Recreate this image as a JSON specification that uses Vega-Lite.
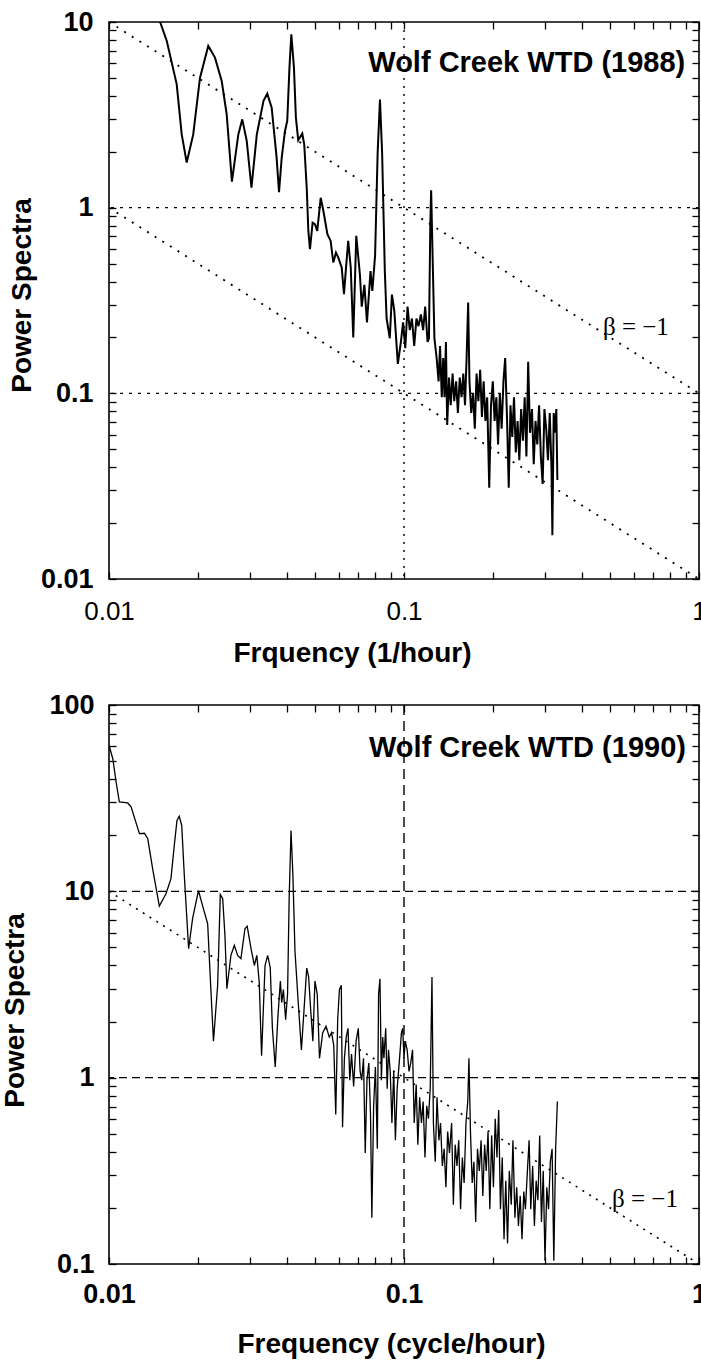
{
  "$schema": "https://vega.github.io/schema/vega-lite/v6.json",
  "background": "white",
  "padding": {"left": 0, "top": 7, "right": 0, "bottom": 0},
  "spacing": 22,
  "config": {
    "font": "Liberation Sans",
    "view": {"stroke": "black", "strokeWidth": 1.6},
    "axis": {
      "domain": false, "grid": false, "ticks": true, "tickColor": "black", "tickWidth": 1.3, "tickSize": 7, "offset": -7,
      "labelColor": "black", "titleColor": "black", "labelFont": "Liberation Sans", "titleFont": "Liberation Sans",
      "labelOverlap": false, "labelFlush": false, "labelBound": false
    }
  },
  "datasets": {
    "spec1988": [
      {"f": 0.0149, "p": 10}, {"f": 0.0157, "p": 7.9}, {"f": 0.01696, "p": 4.63}, {"f": 0.01764, "p": 2.48}, {"f": 0.01834, "p": 1.75},
      {"f": 0.0193, "p": 2.48}, {"f": 0.02034, "p": 5.0}, {"f": 0.0217, "p": 7.43}, {"f": 0.02287, "p": 6.43}, {"f": 0.0241, "p": 4.81},
      {"f": 0.02506, "p": 3.18}, {"f": 0.0261, "p": 1.38}, {"f": 0.02744, "p": 2.48}, {"f": 0.0283, "p": 2.99}, {"f": 0.0293, "p": 2.29},
      {"f": 0.0304, "p": 1.28}, {"f": 0.0317, "p": 2.48}, {"f": 0.0334, "p": 3.76}, {"f": 0.0344, "p": 4.11}, {"f": 0.0356, "p": 3.46},
      {"f": 0.037, "p": 1.86}, {"f": 0.0377, "p": 1.21}, {"f": 0.0385, "p": 1.86}, {"f": 0.0395, "p": 2.59}, {"f": 0.0402, "p": 2.93},
      {"f": 0.0409, "p": 5.68}, {"f": 0.0415, "p": 8.59}, {"f": 0.04236, "p": 5.68}, {"f": 0.043, "p": 3.06}, {"f": 0.0438, "p": 2.31},
      {"f": 0.0452, "p": 2.51}, {"f": 0.0459, "p": 2.19}, {"f": 0.0468, "p": 1.28}, {"f": 0.0474, "p": 0.749}, {"f": 0.048, "p": 0.597},
      {"f": 0.049, "p": 0.83}, {"f": 0.0499, "p": 0.814}, {"f": 0.0508, "p": 0.749}, {"f": 0.0522, "p": 1.13}, {"f": 0.0533, "p": 0.96},
      {"f": 0.055, "p": 0.72}, {"f": 0.0564, "p": 0.662}, {"f": 0.0576, "p": 0.506}, {"f": 0.0588, "p": 0.573}, {"f": 0.0599, "p": 0.538},
      {"f": 0.0615, "p": 0.475}, {"f": 0.0626, "p": 0.342}, {"f": 0.0636, "p": 0.475}, {"f": 0.0647, "p": 0.662}, {"f": 0.066, "p": 0.475},
      {"f": 0.0673, "p": 0.2}, {"f": 0.0689, "p": 0.706}, {"f": 0.0709, "p": 0.434}, {"f": 0.0719, "p": 0.293}, {"f": 0.0734, "p": 0.384},
      {"f": 0.0749, "p": 0.241}, {"f": 0.077, "p": 0.455}, {"f": 0.0781, "p": 0.356}, {"f": 0.0798, "p": 0.553}, {"f": 0.0814, "p": 1.97},
      {"f": 0.0829, "p": 3.82}, {"f": 0.0843, "p": 1.97}, {"f": 0.0861, "p": 0.455}, {"f": 0.0873, "p": 0.253}, {"f": 0.0895, "p": 0.198},
      {"f": 0.091, "p": 0.34}, {"f": 0.0927, "p": 0.279}, {"f": 0.0953, "p": 0.144}, {"f": 0.0976, "p": 0.189}, {"f": 0.0993, "p": 0.241},
      {"f": 0.101, "p": 0.175}, {"f": 0.1028, "p": 0.293}, {"f": 0.1046, "p": 0.219}, {"f": 0.1064, "p": 0.253}, {"f": 0.1083, "p": 0.18},
      {"f": 0.1102, "p": 0.253}, {"f": 0.112, "p": 0.23}, {"f": 0.1141, "p": 0.266}, {"f": 0.1161, "p": 0.219}, {"f": 0.118, "p": 0.293},
      {"f": 0.1202, "p": 0.189}, {"f": 0.1215, "p": 0.198}, {"f": 0.1228, "p": 0.818}, {"f": 0.1236, "p": 1.24}, {"f": 0.125, "p": 0.553},
      {"f": 0.1268, "p": 0.198}, {"f": 0.129, "p": 0.155}, {"f": 0.131, "p": 0.116}, {"f": 0.1325, "p": 0.18}, {"f": 0.1343, "p": 0.0953},
      {"f": 0.1358, "p": 0.155}, {"f": 0.1372, "p": 0.0953}, {"f": 0.1387, "p": 0.189}, {"f": 0.1401, "p": 0.0676}, {"f": 0.1421, "p": 0.1216},
      {"f": 0.144, "p": 0.0863}, {"f": 0.1461, "p": 0.1277}, {"f": 0.148, "p": 0.0907}, {"f": 0.1502, "p": 0.116}, {"f": 0.1523, "p": 0.0783},
      {"f": 0.1545, "p": 0.1216}, {"f": 0.1567, "p": 0.0953}, {"f": 0.1589, "p": 0.1277}, {"f": 0.161, "p": 0.0863}, {"f": 0.163, "p": 0.155},
      {"f": 0.165, "p": 0.308}, {"f": 0.1667, "p": 0.116}, {"f": 0.169, "p": 0.0783}, {"f": 0.1714, "p": 0.1}, {"f": 0.1738, "p": 0.0644},
      {"f": 0.1762, "p": 0.1277}, {"f": 0.1787, "p": 0.0907}, {"f": 0.1812, "p": 0.134}, {"f": 0.1837, "p": 0.0746}, {"f": 0.1862, "p": 0.116},
      {"f": 0.1888, "p": 0.071}, {"f": 0.1914, "p": 0.0953}, {"f": 0.1945, "p": 0.031}, {"f": 0.1972, "p": 0.0863}, {"f": 0.2, "p": 0.116},
      {"f": 0.2028, "p": 0.071}, {"f": 0.2056, "p": 0.0953}, {"f": 0.2084, "p": 0.053}, {"f": 0.2113, "p": 0.1}, {"f": 0.2143, "p": 0.0644},
      {"f": 0.2173, "p": 0.116}, {"f": 0.2203, "p": 0.155}, {"f": 0.2234, "p": 0.0746}, {"f": 0.2265, "p": 0.031}, {"f": 0.2296, "p": 0.0863},
      {"f": 0.2328, "p": 0.0583}, {"f": 0.236, "p": 0.0953}, {"f": 0.2393, "p": 0.0481}, {"f": 0.2427, "p": 0.071}, {"f": 0.246, "p": 0.0436},
      {"f": 0.2495, "p": 0.0822}, {"f": 0.253, "p": 0.0556}, {"f": 0.2565, "p": 0.0953}, {"f": 0.26, "p": 0.0457}, {"f": 0.2636, "p": 0.148},
      {"f": 0.2673, "p": 0.0613}, {"f": 0.2715, "p": 0.0822}, {"f": 0.2753, "p": 0.0415}, {"f": 0.2791, "p": 0.071}, {"f": 0.283, "p": 0.053},
      {"f": 0.287, "p": 0.0863}, {"f": 0.291, "p": 0.0457}, {"f": 0.2951, "p": 0.0325}, {"f": 0.2992, "p": 0.0822}, {"f": 0.3034, "p": 0.0644},
      {"f": 0.3076, "p": 0.0436}, {"f": 0.3119, "p": 0.0783}, {"f": 0.3162, "p": 0.0395}, {"f": 0.3184, "p": 0.0172}, {"f": 0.3217, "p": 0.0783},
      {"f": 0.325, "p": 0.0613}, {"f": 0.3283, "p": 0.0822}, {"f": 0.3311, "p": 0.0341}
    ],
    "spec1990": [
      {"f": 0.01, "p": 60.8}, {"f": 0.0103, "p": 51.5}, {"f": 0.01057, "p": 38.6}, {"f": 0.01084, "p": 30.2}, {"f": 0.01157, "p": 29.8},
      {"f": 0.01188, "p": 28.4}, {"f": 0.01268, "p": 20.4}, {"f": 0.01318, "p": 20.5}, {"f": 0.01353, "p": 19.2}, {"f": 0.01406, "p": 13.2},
      {"f": 0.01481, "p": 8.34}, {"f": 0.0156, "p": 9.71}, {"f": 0.01622, "p": 11.7}, {"f": 0.01665, "p": 17.7}, {"f": 0.017, "p": 24.0},
      {"f": 0.0173, "p": 25.3}, {"f": 0.01764, "p": 22.6}, {"f": 0.018, "p": 12.2}, {"f": 0.01862, "p": 4.92}, {"f": 0.0192, "p": 7.13},
      {"f": 0.0201, "p": 10.1}, {"f": 0.0206, "p": 8.76}, {"f": 0.0216, "p": 6.7}, {"f": 0.02217, "p": 2.88}, {"f": 0.0226, "p": 1.57},
      {"f": 0.02335, "p": 3.13}, {"f": 0.02384, "p": 9.6}, {"f": 0.02429, "p": 9.13}, {"f": 0.02472, "p": 5.8}, {"f": 0.0251, "p": 3.0},
      {"f": 0.0259, "p": 4.53}, {"f": 0.0266, "p": 5.13}, {"f": 0.0273, "p": 4.53}, {"f": 0.028, "p": 4.35}, {"f": 0.0289, "p": 6.3},
      {"f": 0.0294, "p": 6.5}, {"f": 0.0303, "p": 4.92}, {"f": 0.0311, "p": 4.0}, {"f": 0.0317, "p": 4.53}, {"f": 0.0323, "p": 3.26},
      {"f": 0.0329, "p": 1.31}, {"f": 0.0338, "p": 4.0}, {"f": 0.0345, "p": 4.53}, {"f": 0.0352, "p": 3.9}, {"f": 0.0358, "p": 1.84},
      {"f": 0.0366, "p": 1.14}, {"f": 0.0374, "p": 2.16}, {"f": 0.0381, "p": 3.3}, {"f": 0.0385, "p": 2.53}, {"f": 0.039, "p": 2.97},
      {"f": 0.0397, "p": 2.05}, {"f": 0.0403, "p": 2.81}, {"f": 0.0408, "p": 9.06}, {"f": 0.0414, "p": 21.2}, {"f": 0.042, "p": 12.4},
      {"f": 0.0427, "p": 4.78}, {"f": 0.0438, "p": 2.53}, {"f": 0.0449, "p": 1.41}, {"f": 0.0458, "p": 2.28}, {"f": 0.0468, "p": 3.87},
      {"f": 0.0475, "p": 3.48}, {"f": 0.0483, "p": 2.28}, {"f": 0.0491, "p": 1.57}, {"f": 0.0499, "p": 3.3}, {"f": 0.0508, "p": 2.81},
      {"f": 0.0517, "p": 1.27}, {"f": 0.053, "p": 1.74}, {"f": 0.0544, "p": 1.89}, {"f": 0.0558, "p": 1.65}, {"f": 0.0568, "p": 1.74},
      {"f": 0.0578, "p": 1.49}, {"f": 0.0587, "p": 0.635}, {"f": 0.0596, "p": 2.05}, {"f": 0.0604, "p": 2.97}, {"f": 0.0613, "p": 3.13},
      {"f": 0.0619, "p": 0.542}, {"f": 0.0628, "p": 1.27}, {"f": 0.0637, "p": 1.65}, {"f": 0.0646, "p": 1.84}, {"f": 0.0655, "p": 0.97},
      {"f": 0.0664, "p": 1.34}, {"f": 0.0675, "p": 0.898}, {"f": 0.0688, "p": 1.57}, {"f": 0.07, "p": 1.84}, {"f": 0.071, "p": 1.08},
      {"f": 0.0719, "p": 0.97}, {"f": 0.0729, "p": 1.27}, {"f": 0.0739, "p": 0.394}, {"f": 0.0749, "p": 0.97}, {"f": 0.076, "p": 1.2},
      {"f": 0.077, "p": 0.635}, {"f": 0.0778, "p": 0.177}, {"f": 0.0789, "p": 0.706}, {"f": 0.08, "p": 1.14}, {"f": 0.0812, "p": 0.415},
      {"f": 0.082, "p": 2.81}, {"f": 0.0829, "p": 3.39}, {"f": 0.0838, "p": 0.97}, {"f": 0.0847, "p": 1.65}, {"f": 0.0855, "p": 1.27},
      {"f": 0.0867, "p": 1.84}, {"f": 0.0877, "p": 0.873}, {"f": 0.0886, "p": 1.41}, {"f": 0.0898, "p": 1.08}, {"f": 0.091, "p": 0.571},
      {"f": 0.0923, "p": 1.08}, {"f": 0.0935, "p": 0.461}, {"f": 0.0948, "p": 0.873}, {"f": 0.0966, "p": 1.27}, {"f": 0.098, "p": 1.74},
      {"f": 0.099, "p": 1.84}, {"f": 0.1, "p": 1.27}, {"f": 0.101, "p": 1.57}, {"f": 0.1025, "p": 1.41}, {"f": 0.104, "p": 1.08},
      {"f": 0.1054, "p": 1.2}, {"f": 0.1069, "p": 1.41}, {"f": 0.1083, "p": 0.571}, {"f": 0.11, "p": 0.92}, {"f": 0.1114, "p": 0.437},
      {"f": 0.113, "p": 0.785}, {"f": 0.1146, "p": 0.571}, {"f": 0.1161, "p": 0.745}, {"f": 0.1178, "p": 0.373}, {"f": 0.1194, "p": 0.706},
      {"f": 0.121, "p": 0.602}, {"f": 0.1227, "p": 0.873}, {"f": 0.1244, "p": 3.47}, {"f": 0.1258, "p": 0.571}, {"f": 0.1276, "p": 0.354},
      {"f": 0.1294, "p": 0.785}, {"f": 0.1313, "p": 0.461}, {"f": 0.133, "p": 0.571}, {"f": 0.1349, "p": 0.336}, {"f": 0.1368, "p": 0.415},
      {"f": 0.1387, "p": 0.258}, {"f": 0.1406, "p": 0.514}, {"f": 0.1426, "p": 0.394}, {"f": 0.145, "p": 0.571}, {"f": 0.147, "p": 0.208},
      {"f": 0.1491, "p": 0.437}, {"f": 0.1512, "p": 0.336}, {"f": 0.1533, "p": 0.461}, {"f": 0.1555, "p": 0.197}, {"f": 0.1577, "p": 0.373},
      {"f": 0.1599, "p": 0.272}, {"f": 0.1622, "p": 0.571}, {"f": 0.1645, "p": 0.745}, {"f": 0.166, "p": 1.27}, {"f": 0.168, "p": 0.514},
      {"f": 0.1703, "p": 0.272}, {"f": 0.1726, "p": 0.354}, {"f": 0.175, "p": 0.168}, {"f": 0.1775, "p": 0.415}, {"f": 0.18, "p": 0.316},
      {"f": 0.1825, "p": 0.461}, {"f": 0.185, "p": 0.232}, {"f": 0.1876, "p": 0.437}, {"f": 0.19, "p": 0.316}, {"f": 0.1927, "p": 0.514},
      {"f": 0.1954, "p": 0.197}, {"f": 0.1982, "p": 0.49}, {"f": 0.201, "p": 0.258}, {"f": 0.2038, "p": 0.602}, {"f": 0.2066, "p": 0.373},
      {"f": 0.2094, "p": 0.67}, {"f": 0.2123, "p": 0.197}, {"f": 0.2153, "p": 0.373}, {"f": 0.2183, "p": 0.136}, {"f": 0.2213, "p": 0.28},
      {"f": 0.2244, "p": 0.129}, {"f": 0.2275, "p": 0.316}, {"f": 0.231, "p": 0.208}, {"f": 0.234, "p": 0.461}, {"f": 0.2377, "p": 0.177},
      {"f": 0.241, "p": 0.258}, {"f": 0.2443, "p": 0.16}, {"f": 0.2477, "p": 0.232}, {"f": 0.2512, "p": 0.136}, {"f": 0.2547, "p": 0.245},
      {"f": 0.258, "p": 0.197}, {"f": 0.262, "p": 0.316}, {"f": 0.2655, "p": 0.461}, {"f": 0.269, "p": 0.197}, {"f": 0.273, "p": 0.336},
      {"f": 0.2767, "p": 0.16}, {"f": 0.2805, "p": 0.28}, {"f": 0.2844, "p": 0.22}, {"f": 0.2884, "p": 0.49}, {"f": 0.2924, "p": 0.168},
      {"f": 0.2965, "p": 0.316}, {"f": 0.3006, "p": 0.104}, {"f": 0.3048, "p": 0.258}, {"f": 0.309, "p": 0.197}, {"f": 0.3133, "p": 0.354},
      {"f": 0.3177, "p": 0.415}, {"f": 0.322, "p": 0.104}, {"f": 0.3266, "p": 0.415}, {"f": 0.3311, "p": 0.745}
    ]
  },
  "vconcat": [
    {
      "width": 590,
      "height": 557,
      "resolve": {"axis": {"x": "independent", "y": "independent"}},
      "layer": [
        {
          "data": {"values": [{"f": 0.1}]},
          "mark": {"type": "rule", "color": "black", "strokeWidth": 1.4, "strokeDash": [2, 6]},
          "encoding": {"x": {"field": "f", "type": "quantitative", "scale": {"type": "log", "domain": [0.01, 1], "nice": false}, "axis": null}}
        },
        {
          "data": {"values": [{"p": 1}, {"p": 0.1}]},
          "mark": {"type": "rule", "color": "black", "strokeWidth": 1.4, "strokeDash": [3, 6]},
          "encoding": {"y": {"field": "p", "type": "quantitative", "scale": {"type": "log", "domain": [0.01, 10], "nice": false}, "axis": null}}
        },
        {
          "data": {"values": [{"f": 0.01, "p": 10, "f2": 1, "p2": 0.1}, {"f": 0.01, "p": 1, "f2": 1, "p2": 0.01}]},
          "mark": {"type": "rule", "color": "black", "strokeWidth": 1.8, "strokeDash": [2, 7]},
          "encoding": {
            "x": {"field": "f", "type": "quantitative", "scale": {"type": "log", "domain": [0.01, 1], "nice": false}, "axis": null},
            "y": {"field": "p", "type": "quantitative", "scale": {"type": "log", "domain": [0.01, 10], "nice": false}, "axis": null},
            "x2": {"field": "f2"},
            "y2": {"field": "p2"}
          }
        },
        {
          "data": {"name": "spec1988"},
          "mark": {"type": "line", "color": "black", "strokeWidth": 2, "clip": true},
          "encoding": {
            "x": {"field": "f", "type": "quantitative", "scale": {"type": "log", "domain": [0.01, 1], "nice": false},
              "axis": {"orient": "bottom", "title": "Frquency (1/hour)", "values": [0.01,0.02,0.03,0.04,0.05,0.06,0.07,0.08,0.09,0.1,0.2,0.3,0.4,0.5,0.6,0.7,0.8,0.9,1],
                "labelExpr": "indexof([0.01,0.1,1], datum.value) >= 0 ? format(datum.value, '~g') : ''",
                "labelFontSize": 26, "labelFontWeight": "normal", "labelPadding": 19,
                "titleFontSize": 28, "titleFontWeight": "bold", "titleBaseline": "middle", "titleAlign": "center", "titleX": 243, "titleY": 81}},
            "y": {"field": "p", "type": "quantitative", "scale": {"type": "log", "domain": [0.01, 10], "nice": false},
              "axis": {"orient": "left", "title": "Power Spectra", "values": [0.01,0.02,0.03,0.04,0.05,0.06,0.07,0.08,0.09,0.1,0.2,0.3,0.4,0.5,0.6,0.7,0.8,0.9,1,2,3,4,5,6,7,8,9,10],
                "labelExpr": "indexof([0.01,0.1,1,10], datum.value) >= 0 ? format(datum.value, '~g') : ''",
                "labelFontSize": 27, "labelFontWeight": "bold", "labelPadding": 16,
                "titleFontSize": 28, "titleFontWeight": "bold", "titleAlign": "center", "titleX": -80, "titleY": 273}}
          }
        },
        {
          "data": {"values": [{"f": 0.898, "p": 6.0, "label": "Wolf Creek WTD (1988)"}]},
          "mark": {"type": "text", "align": "right", "baseline": "middle", "fontSize": 29, "fontWeight": "bold", "font": "Liberation Sans", "color": "black"},
          "encoding": {
            "x": {"field": "f", "type": "quantitative", "scale": {"type": "log", "domain": [0.01, 1], "nice": false},
              "axis": {"orient": "top", "title": null, "labels": false, "values": [0.01,0.02,0.03,0.04,0.05,0.06,0.07,0.08,0.09,0.1,0.2,0.3,0.4,0.5,0.6,0.7,0.8,0.9,1]}},
            "y": {"field": "p", "type": "quantitative", "scale": {"type": "log", "domain": [0.01, 10], "nice": false},
              "axis": {"orient": "right", "title": null, "labels": false, "values": [0.01,0.02,0.03,0.04,0.05,0.06,0.07,0.08,0.09,0.1,0.2,0.3,0.4,0.5,0.6,0.7,0.8,0.9,1,2,3,4,5,6,7,8,9,10]}},
            "text": {"field": "label"}
          }
        },
        {
          "data": {"values": [{"f": 0.611, "p": 0.228, "label": "β = −1"}]},
          "mark": {"type": "text", "align": "center", "baseline": "middle", "fontSize": 25, "font": "Liberation Serif", "color": "black"},
          "encoding": {
            "x": {"field": "f", "type": "quantitative", "scale": {"type": "log", "domain": [0.01, 1], "nice": false}, "axis": null},
            "y": {"field": "p", "type": "quantitative", "scale": {"type": "log", "domain": [0.01, 10], "nice": false}, "axis": null},
            "text": {"field": "label"}
          }
        }
      ]
    },
    {
      "width": 590,
      "height": 559,
      "resolve": {"axis": {"x": "independent", "y": "independent"}},
      "layer": [
        {
          "data": {"values": [{"f": 0.1}]},
          "mark": {"type": "rule", "color": "black", "strokeWidth": 1.4, "strokeDash": [10, 6]},
          "encoding": {"x": {"field": "f", "type": "quantitative", "scale": {"type": "log", "domain": [0.01, 1], "nice": false}, "axis": null}}
        },
        {
          "data": {"values": [{"p": 10}, {"p": 1}]},
          "mark": {"type": "rule", "color": "black", "strokeWidth": 1.4, "strokeDash": [8, 5]},
          "encoding": {"y": {"field": "p", "type": "quantitative", "scale": {"type": "log", "domain": [0.1, 100], "nice": false}, "axis": null}}
        },
        {
          "data": {"values": [{"f": 0.01, "p": 10, "f2": 1, "p2": 0.1}]},
          "mark": {"type": "rule", "color": "black", "strokeWidth": 1.6, "strokeDash": [2, 6]},
          "encoding": {
            "x": {"field": "f", "type": "quantitative", "scale": {"type": "log", "domain": [0.01, 1], "nice": false}, "axis": null},
            "y": {"field": "p", "type": "quantitative", "scale": {"type": "log", "domain": [0.1, 100], "nice": false}, "axis": null},
            "x2": {"field": "f2"},
            "y2": {"field": "p2"}
          }
        },
        {
          "data": {"name": "spec1990"},
          "mark": {"type": "line", "color": "black", "strokeWidth": 1.3, "clip": true},
          "encoding": {
            "x": {"field": "f", "type": "quantitative", "scale": {"type": "log", "domain": [0.01, 1], "nice": false},
              "axis": {"orient": "bottom", "title": "Frequency (cycle/hour)", "values": [0.01,0.02,0.03,0.04,0.05,0.06,0.07,0.08,0.09,0.1,0.2,0.3,0.4,0.5,0.6,0.7,0.8,0.9,1],
                "labelExpr": "indexof([0.01,0.1,1], datum.value) >= 0 ? format(datum.value, '~g') : ''",
                "labelFontSize": 27, "labelFontWeight": "bold", "labelPadding": 17,
                "titleFontSize": 28, "titleFontWeight": "bold", "titleBaseline": "middle", "titleAlign": "center", "titleX": 282, "titleY": 87}},
            "y": {"field": "p", "type": "quantitative", "scale": {"type": "log", "domain": [0.1, 100], "nice": false},
              "axis": {"orient": "left", "title": "Power Spectra", "values": [0.1,0.2,0.3,0.4,0.5,0.6,0.7,0.8,0.9,1,2,3,4,5,6,7,8,9,10,20,30,40,50,60,70,80,90,100],
                "labelExpr": "indexof([0.1,1,10,100], datum.value) >= 0 ? format(datum.value, '~g') : ''",
                "labelFontSize": 27, "labelFontWeight": "bold", "labelPadding": 15,
                "titleFontSize": 28, "titleFontWeight": "bold", "titleAlign": "center", "titleX": -87, "titleY": 305}}
          }
        },
        {
          "data": {"values": [{"f": 0.903, "p": 58.8, "label": "Wolf Creek WTD (1990)"}]},
          "mark": {"type": "text", "align": "right", "baseline": "middle", "fontSize": 29, "fontWeight": "bold", "font": "Liberation Sans", "color": "black"},
          "encoding": {
            "x": {"field": "f", "type": "quantitative", "scale": {"type": "log", "domain": [0.01, 1], "nice": false},
              "axis": {"orient": "top", "title": null, "labels": false, "values": [0.01,0.02,0.03,0.04,0.05,0.06,0.07,0.08,0.09,0.1,0.2,0.3,0.4,0.5,0.6,0.7,0.8,0.9,1]}},
            "y": {"field": "p", "type": "quantitative", "scale": {"type": "log", "domain": [0.1, 100], "nice": false},
              "axis": {"orient": "right", "title": null, "labels": false, "values": [0.1,0.2,0.3,0.4,0.5,0.6,0.7,0.8,0.9,1,2,3,4,5,6,7,8,9,10,20,30,40,50,60,70,80,90,100]}},
            "text": {"field": "label"}
          }
        },
        {
          "data": {"values": [{"f": 0.656, "p": 0.223, "label": "β = −1"}]},
          "mark": {"type": "text", "align": "center", "baseline": "middle", "fontSize": 25, "font": "Liberation Serif", "color": "black"},
          "encoding": {
            "x": {"field": "f", "type": "quantitative", "scale": {"type": "log", "domain": [0.01, 1], "nice": false}, "axis": null},
            "y": {"field": "p", "type": "quantitative", "scale": {"type": "log", "domain": [0.1, 100], "nice": false}, "axis": null},
            "text": {"field": "label"}
          }
        }
      ]
    }
  ]
}
